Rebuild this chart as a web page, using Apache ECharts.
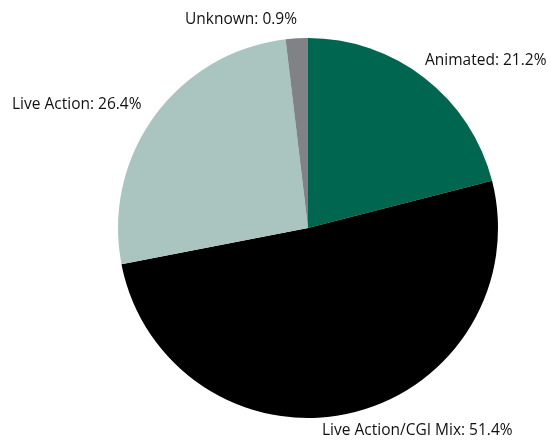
<!DOCTYPE html>
<html>
<head>
<meta charset="utf-8">
<script src="https://cdn.jsdelivr.net/npm/echarts@6/dist/echarts.min.js"></script>
<style>
    html, body { margin: 0; padding: 0; background: #fff; }
    #chart { width: 550px; height: 440px; }
</style>
</head>
<body>
<div id="chart"></div>
<script>
    // slice names, clockwise from 12 o'clock
    var categories = ['Animated', 'Live Action/CGI Mix', 'Live Action', 'Unknown'];
    // slice sizes as drawn in the picture
    var sliceValues = [21.2, 51.4, 26.4, 1.9];
    // percentages printed on the labels
    var labelPct = ['21.2%', '51.4%', '26.4%', '0.9%'];
    var colors = ['#00664f', '#000000', '#aac5bf', '#818285'];

    // label anchor for each slice (x, y, align)
    var labelSpots = [
        [425, 61, 'left'],
        [322, 431, 'left'],
        [12, 105, 'left'],
        [297, 20, 'right']
    ];

    var chart = echarts.init(document.getElementById('chart'));

    var option = {
        animation: false,
        color: colors,
        series: [
            {
                type: 'pie',
                center: [308, 228],
                radius: 190,
                startAngle: 90,
                clockwise: true,
                avoidLabelOverlap: false,
                label: {
                    show: true,
                    position: 'outside',
                    color: '#111',
                    fontFamily: 'Open Sans',
                    fontSize: 15.5,
                    formatter: function (p) {
                        return p.name + ': ' + labelPct[p.dataIndex];
                    }
                },
                labelLine: { show: false },
                labelLayout: function (p) {
                    var s = labelSpots[p.dataIndex];
                    return { x: s[0], y: s[1], align: s[2], verticalAlign: 'middle' };
                },
                itemStyle: { borderWidth: 0 },
                emphasis: { disabled: true },
                data: categories.map(function (name, i) {
                    return { name: name, value: sliceValues[i] };
                })
            }
        ]
    };

    chart.setOption(option);
</script>
</body>
</html>
